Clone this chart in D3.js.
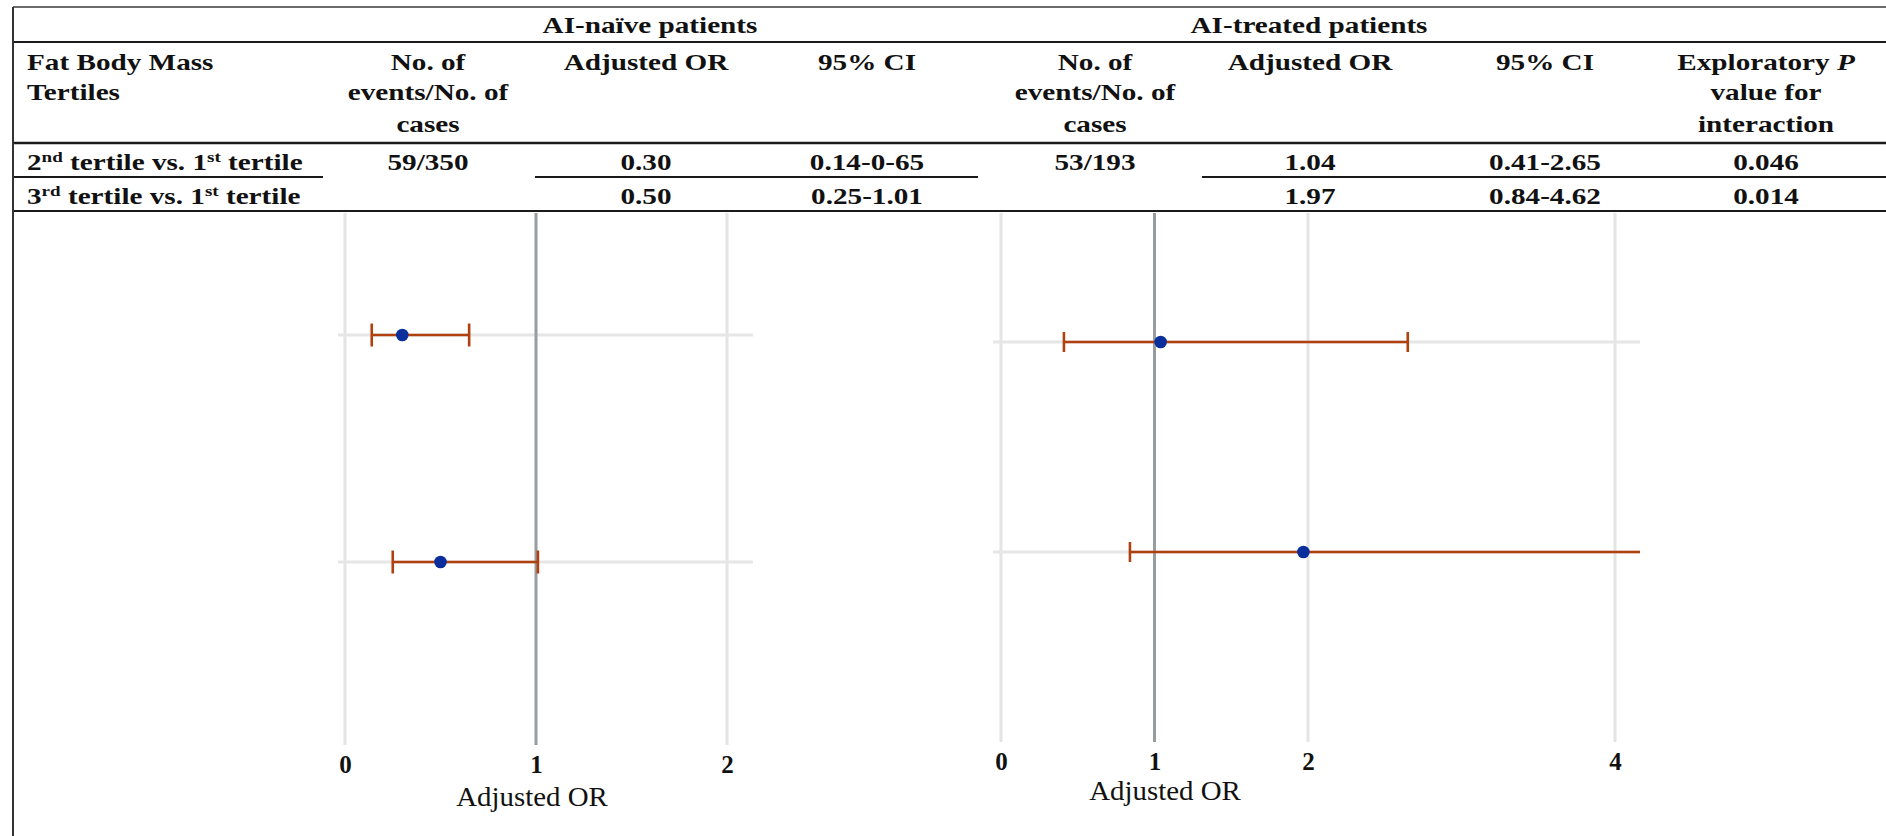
<!DOCTYPE html>
<html>
<head>
<meta charset="utf-8">
<script src="https://cdn.jsdelivr.net/npm/d3@7"></script>
<style>
  body { margin: 0; background: #fff; }
  svg { display: block; }
</style>
</head>
<body>
<div id="chart"></div>
<script>
const rowLabels = ["2nd tertile vs. 1st tertile", "3rd tertile vs. 1st tertile"]
const naiveEvents = ["59/350", ""]
const naiveOR = [0.30, 0.50]
const naiveLow = [0.14, 0.25]
const naiveHigh = [0.65, 1.01]
const naiveCIText = ["0.14-0-65", "0.25-1.01"]
const treatedEvents = ["53/193", ""]
const treatedOR = [1.04, 1.97]
const treatedLow = [0.41, 0.84]
const treatedHigh = [2.65, 4.62]
const treatedCIText = ["0.41-2.65", "0.84-4.62"]
const pInteraction = ["0.046", "0.014"]
const naiveTicks = [0, 1, 2]
const treatedTicks = [0, 1, 2, 4]

const width = 1886
const height = 836
const serif = "'Liberation Serif', 'Times New Roman', serif"
const stretch = 1.27   // the original table text is stretched sideways

const svg = d3.select("#chart")
  .append("svg")
  .attr("width", width)
  .attr("height", height)
  .style("background", "#fff")

const fmt = d3.format(".2f")

/**
 * Put a bold, sideways-stretched table string at (x, y).
 * Ordinal suffixes (1st, 2nd, 3rd) are drawn as superscripts.
 */
function tableText(x, y, str, anchor) {
  const t = svg.append("text")
    .attr("transform", `translate(${x},${y}) scale(${stretch},1)`)
    .attr("text-anchor", anchor || "middle")
    .style("font-family", serif)
    .style("font-weight", "bold")
    .style("font-size", "23px")
    .style("fill", "#111")
  // split "2nd tertile vs. 1st tertile" into normal / superscript pieces
  const pieces = []
  str.split(/(\d)(st|nd|rd|th)\b/).forEach((p, i) => {
    if (i % 3 === 2) pieces.push({ s: p, sup: true })
    else if (p !== "") pieces.push({ s: p, sup: false })
  })
  let raised = false
  pieces.forEach(p => {
    const ts = t.append("tspan").text(p.s)
    if (p.sup) {
      ts.attr("dy", -8).style("font-size", "15px")
      raised = true
    } else if (raised) {
      ts.attr("dy", 8)
      raised = false
    }
  })
  return t
}

function hLine(x1, x2, y, w, c) {
  svg.append("line")
    .attr("x1", x1).attr("x2", x2).attr("y1", y).attr("y2", y)
    .style("stroke", c || "#1a1a1a")
    .style("stroke-width", w || 2)
}

// ---- table frame ----
const tableLeft = 13
hLine(tableLeft, width, 7, 2, "#6b6b6b")
hLine(tableLeft, width, 42, 2)
hLine(tableLeft, width, 143, 2.5)
hLine(tableLeft, 323, 177, 2)
hLine(535, 978, 177, 2)
hLine(1202, width, 177, 2)
hLine(tableLeft, width, 211, 2)
svg.append("line")
  .attr("x1", tableLeft).attr("x2", tableLeft).attr("y1", 7).attr("y2", height)
  .style("stroke", "#333").style("stroke-width", 2)

// column centres
const colX = [27, 428, 646, 867, 1095, 1310, 1545, 1766]

// group headers
tableText(650, 33, "AI-naïve patients")
tableText(1309, 33, "AI-treated patients")

// column headers (three text lines)
const headLines = [70, 100, 132]
tableText(colX[0], headLines[0], "Fat Body Mass", "start")
tableText(colX[0], headLines[1], "Tertiles", "start")
;[colX[1], colX[4]].forEach(cx => {
  tableText(cx, headLines[0], "No. of")
  tableText(cx, headLines[1], "events/No. of")
  tableText(cx, headLines[2], "cases")
})
;[colX[2], colX[5]].forEach(cx => tableText(cx, headLines[0], "Adjusted OR"))
;[colX[3], colX[6]].forEach(cx => tableText(cx, headLines[0], "95% CI"))
const pHead = tableText(colX[7], headLines[0], "Exploratory ")
pHead.append("tspan").style("font-style", "italic").text("P")
tableText(colX[7], headLines[1], "value for")
tableText(colX[7], headLines[2], "interaction")

// body rows
const rowBase = [170, 204]
rowLabels.forEach((lab, i) => {
  const y = rowBase[i]
  tableText(colX[0], y, lab, "start")
  tableText(colX[1], y, naiveEvents[i])
  tableText(colX[2], y, fmt(naiveOR[i]))
  tableText(colX[3], y, naiveCIText[i])
  tableText(colX[4], y, treatedEvents[i])
  tableText(colX[5], y, fmt(treatedOR[i]))
  tableText(colX[6], y, treatedCIText[i])
  tableText(colX[7], y, pInteraction[i])
})

/**
 * Draw one forest-plot panel: grid, reference line at OR = 1,
 * confidence intervals with end caps and the point estimates.
 */
function drawPanel(cfg) {
  const xScale = d3.scaleLinear().domain(cfg.domain).range(cfg.range)
  const yScale = d3.scalePoint().domain(rowLabels).range(cfg.rowsY)
  const g = svg.append("g")
  const gridTop = 213

  const data = rowLabels.map((lab, i) => ({
    lab: lab, or: cfg.or[i], lo: cfg.lo[i], hi: cfg.hi[i]
  }))

  // vertical grid lines
  g.selectAll(".vgrid")
    .data(cfg.ticks.filter(t => t !== 1))
    .enter()
    .append("line")
    .attr("x1", d => xScale(d)).attr("x2", d => xScale(d))
    .attr("y1", gridTop).attr("y2", cfg.gridBottom)
    .style("stroke", "#e4e4e4")
    .style("stroke-width", 3)

  // horizontal grid lines through each row
  g.selectAll(".hgrid")
    .data(rowLabels)
    .enter()
    .append("line")
    .attr("x1", cfg.left).attr("x2", cfg.right)
    .attr("y1", d => yScale(d)).attr("y2", d => yScale(d))
    .style("stroke", "#e6e6e6")
    .style("stroke-width", 3)

  // reference line at OR = 1
  g.append("line")
    .attr("x1", xScale(1)).attr("x2", xScale(1))
    .attr("y1", gridTop).attr("y2", cfg.gridBottom)
    .style("stroke", "#979c9f")
    .style("stroke-width", 3)

  const ciColor = "#b0400e"
  // CI lines (clipped at the right edge of the panel)
  g.selectAll(".ci")
    .data(data)
    .enter()
    .append("line")
    .attr("x1", d => xScale(d.lo))
    .attr("x2", d => Math.min(xScale(d.hi), cfg.right))
    .attr("y1", d => yScale(d.lab)).attr("y2", d => yScale(d.lab))
    .style("stroke", ciColor)
    .style("stroke-width", 2.6)

  // end caps
  const caps = []
  data.forEach(d => {
    caps.push({ v: d.lo, lab: d.lab })
    if (xScale(d.hi) <= cfg.right) caps.push({ v: d.hi, lab: d.lab })
  })
  g.selectAll(".cap")
    .data(caps)
    .enter()
    .append("line")
    .attr("x1", d => xScale(d.v)).attr("x2", d => xScale(d.v))
    .attr("y1", d => yScale(d.lab) - cfg.capH)
    .attr("y2", d => yScale(d.lab) + cfg.capH)
    .style("stroke", ciColor)
    .style("stroke-width", 2.6)

  // point estimates
  g.selectAll(".pt")
    .data(data)
    .enter()
    .append("circle")
    .attr("cx", d => xScale(d.or))
    .attr("cy", d => yScale(d.lab))
    .attr("r", 6.3)
    .style("fill", "#0a2f9c")

  // bottom axis, tick labels only
  const axis = g.append("g")
    .attr("transform", `translate(0,${cfg.gridBottom})`)
    .call(d3.axisBottom(xScale).tickValues(cfg.ticks).tickSize(0).tickPadding(10).tickFormat(d3.format("d")))
  axis.select(".domain").remove()
  axis.selectAll("text")
    .style("font-family", serif)
    .style("font-weight", "bold")
    .style("font-size", "25px")
    .style("fill", "#111")

  // axis title
  svg.append("text")
    .attr("transform", `translate(${cfg.labelX},${cfg.labelY}) scale(1.07,1)`)
    .attr("text-anchor", "middle")
    .style("font-family", serif)
    .style("font-size", "27px")
    .style("fill", "#111")
    .text("Adjusted OR")
}

drawPanel({
  or: naiveOR, lo: naiveLow, hi: naiveHigh, ticks: naiveTicks,
  domain: [0, 2], range: [345, 727],
  left: 338, right: 753, rowsY: [335, 562],
  gridBottom: 745, capH: 11.5, labelX: 532, labelY: 806
})

drawPanel({
  or: treatedOR, lo: treatedLow, hi: treatedHigh, ticks: treatedTicks,
  domain: [0, 4], range: [1001, 1615],
  left: 993, right: 1640, rowsY: [342, 552],
  gridBottom: 742, capH: 10, labelX: 1165, labelY: 800
})
</script>
</body>
</html>
